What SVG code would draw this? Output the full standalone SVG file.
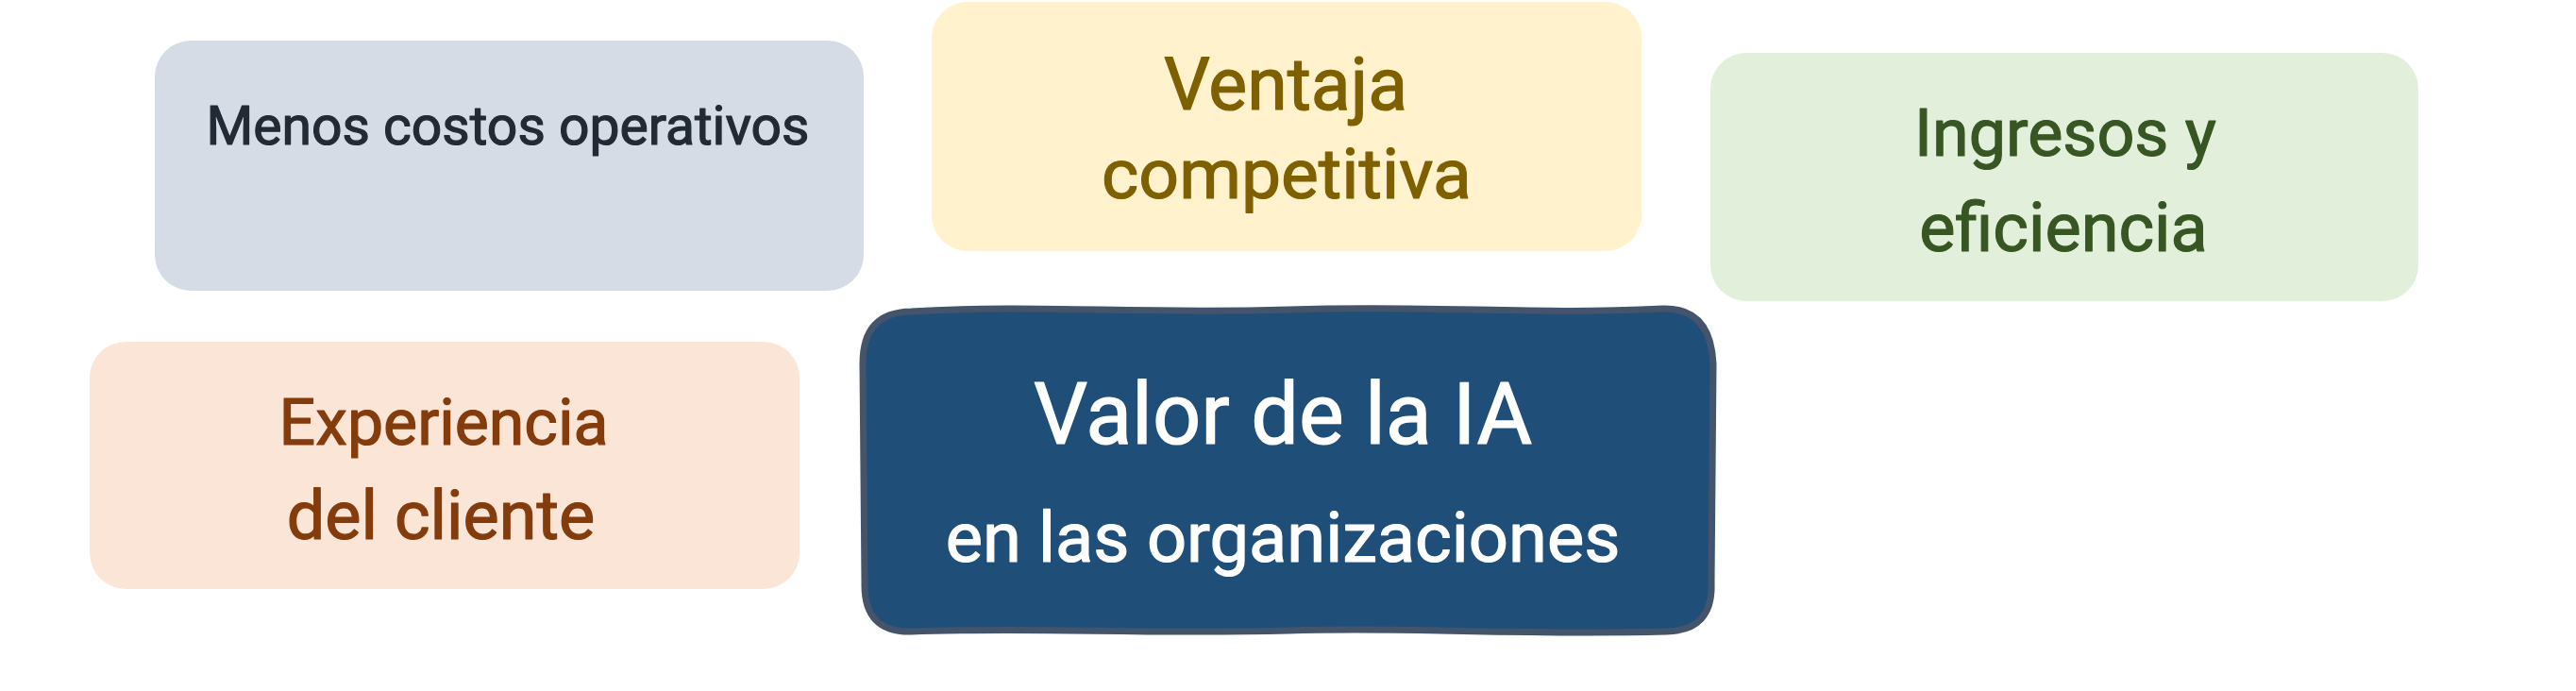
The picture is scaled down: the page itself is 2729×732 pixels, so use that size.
<svg xmlns="http://www.w3.org/2000/svg" width="2729" height="732" viewBox="0 0 2729 732">
<style>
text{font-family:Roboto,"Liberation Sans",Arial,sans-serif;text-anchor:middle;font-weight:400;stroke-width:1.2;stroke-linejoin:round}
.box{stroke:none}
.t-gray{fill:#222a35;stroke:#222a35}
.t-yel{fill:#7f6000;stroke:#7f6000}
.t-grn{fill:#375623;stroke:#375623}
.t-org{fill:#843c0c;stroke:#843c0c}
.t-wht{fill:#ffffff;stroke:#ffffff}
</style>
<rect width="2729" height="732" fill="#ffffff"/>
<g id="connectors"></g>
<g id="node-costos">
<rect class="box" x="164" y="43" width="751" height="265" rx="38" fill="#d6dce5"/>
<text class="t-gray" x="538" y="153" font-size="57">Menos costos operativos</text>
</g>
<g id="node-ventaja">
<rect class="box" x="987" y="2" width="752" height="264" rx="38" fill="#fff2cc"/>
<text class="t-yel" x="1362" y="116" font-size="77">Ventaja</text>
<text class="t-yel" x="1363" y="210" font-size="75">competitiva</text>
</g>
<g id="node-ingresos">
<rect class="box" x="1812" y="56" width="750" height="263" rx="38" fill="#e2efda"/>
<text class="t-grn" x="2188" y="165" font-size="70">Ingresos y</text>
<text class="t-grn" x="2186" y="266" font-size="72">eficiencia</text>
</g>
<g id="node-experiencia">
<rect class="box" x="95" y="362" width="752" height="262" rx="38" fill="#fbe5d6"/>
<text class="t-org" x="470" y="471" font-size="68">Experiencia</text>
<text class="t-org" x="467" y="571" font-size="72">del cliente</text>
</g>
<g id="node-valor">
<path d="M 965,330 C 1100,322 1200,333 1365,328 C 1530,323 1620,334 1762,327 Q 1812,326 1815,385 L 1813,618 Q 1815,668 1765,669 C 1600,673 1500,664 1365,668 C 1200,672 1100,664 965,669 Q 915,670 916,618 L 914,385 Q 914,331 965,330 Z" fill="#1f4e79" stroke="#44546a" stroke-width="7" stroke-linejoin="round"/>
<text class="t-wht" x="1359" y="470" font-size="90">Valor de la IA</text>
<text class="t-wht" x="1359" y="595" font-size="74">en las organizaciones</text>
</g>
</svg>
